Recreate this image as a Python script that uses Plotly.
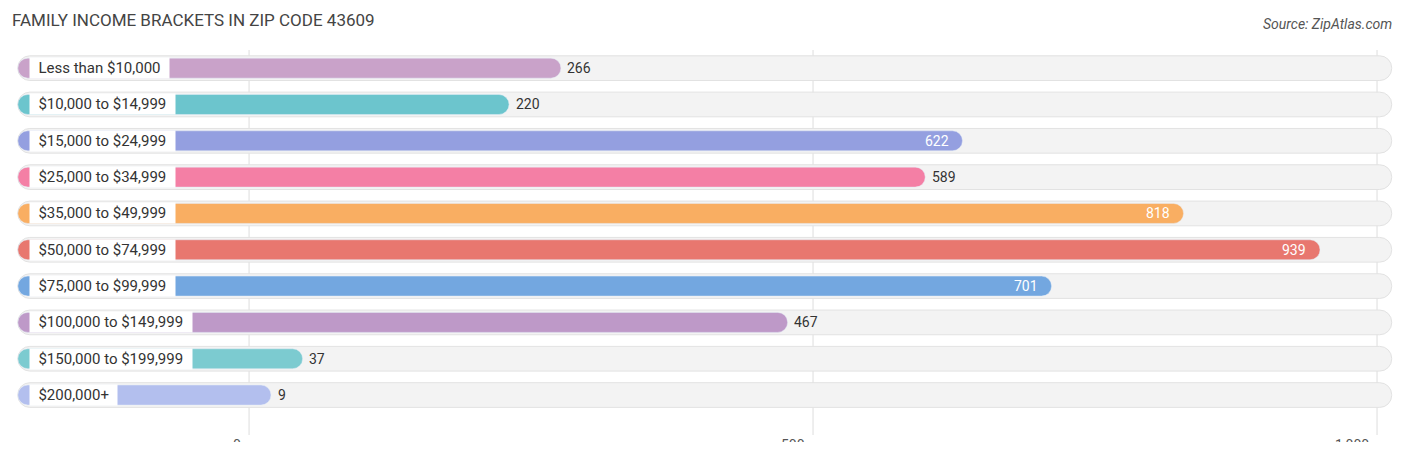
import plotly.graph_objects as go

categories = ["Less than $10,000", "$10,000 to $14,999", "$15,000 to $24,999", "$25,000 to $34,999",
              "$35,000 to $49,999", "$50,000 to $74,999", "$75,000 to $99,999", "$100,000 to $149,999",
              "$150,000 to $199,999", "$200,000+"]
values = [266, 220, 622, 589, 818, 939, 701, 467, 37, 9]
colors = ["#c9a2c9", "#6cc5cd", "#949fe0", "#f47fa5", "#f9ae62", "#e8776f", "#73a7e0", "#be99c8", "#7ccbd0", "#b3bfee"]
tick_vals = [0, 500, 1000]
tick_text = ["0", "500", "1,000"]

start = -205
cap = 10.5
bg_end = 1013
idx = list(range(len(categories)))

fig = go.Figure()
fig.add_trace(go.Bar(y=idx, x=[bg_end - start] * len(idx), base=start, orientation="h",
                     width=0.68, marker=dict(color="#f3f3f3", line=dict(color="#e2e2e2", width=1), cornerradius=12),
                     hoverinfo="skip"))
fig.add_trace(go.Bar(y=idx, x=[v + cap - start for v in values], base=start, orientation="h",
                     width=0.55, marker=dict(color=colors, cornerradius=10), hoverinfo="skip"))

ann = []
for i, (c, v) in enumerate(zip(categories, values)):
    ann.append(dict(x=-195, y=i, text="  " + c + "  ", xanchor="left", showarrow=False, bgcolor="white",
                    borderpad=1, font=dict(size=15, color="#333", family="Roboto")))
    if v > 600:
        ann.append(dict(x=v, y=i, text=str(v), xanchor="right", showarrow=False,
                        font=dict(size=14, color="white", family="Roboto")))
    else:
        ann.append(dict(x=v + cap + 4, y=i, text=str(v), xanchor="left", showarrow=False,
                        font=dict(size=14, color="#333", family="Roboto")))
for tv, tt in zip(tick_vals, tick_text):
    ann.append(dict(x=tv, y=0, yref="paper", yanchor="top", yshift=0, xshift=-6, text=tt, xanchor="right",
                    showarrow=False, font=dict(size=14, color="#555", family="Roboto")))

shapes = [dict(type="line", x0=tv, x1=tv, y0=-0.5, y1=10.1, yref="y", line=dict(color="#dddddd", width=1), layer="below")
          for tv in tick_vals]

W, H = 1390, 434
fig.update_layout(
    width=W, height=H, margin=dict(l=0, r=0, t=42, b=7),
    paper_bgcolor="white", plot_bgcolor="white", barmode="overlay", showlegend=False,
    xaxis=dict(range=[-213.7, 1018.6], visible=False, fixedrange=True),
    yaxis=dict(range=[10.1, -0.5], visible=False, fixedrange=True),
    annotations=ann, shapes=shapes,
    title=dict(text="FAMILY INCOME BRACKETS IN ZIP CODE 43609", x=4 / W, xanchor="left", y=1 - 12 / H,
               yanchor="middle", font=dict(size=17, color="#444", family="Roboto")),
)
fig.add_annotation(x=1, y=1 + 26 / 385, xref="paper", yref="paper", xanchor="right", yanchor="middle", xshift=-4,
                   text="<i>Source: ZipAtlas.com</i>", showarrow=False, font=dict(size=14, color="#555", family="Roboto"))
fig.write_html("out.html")
